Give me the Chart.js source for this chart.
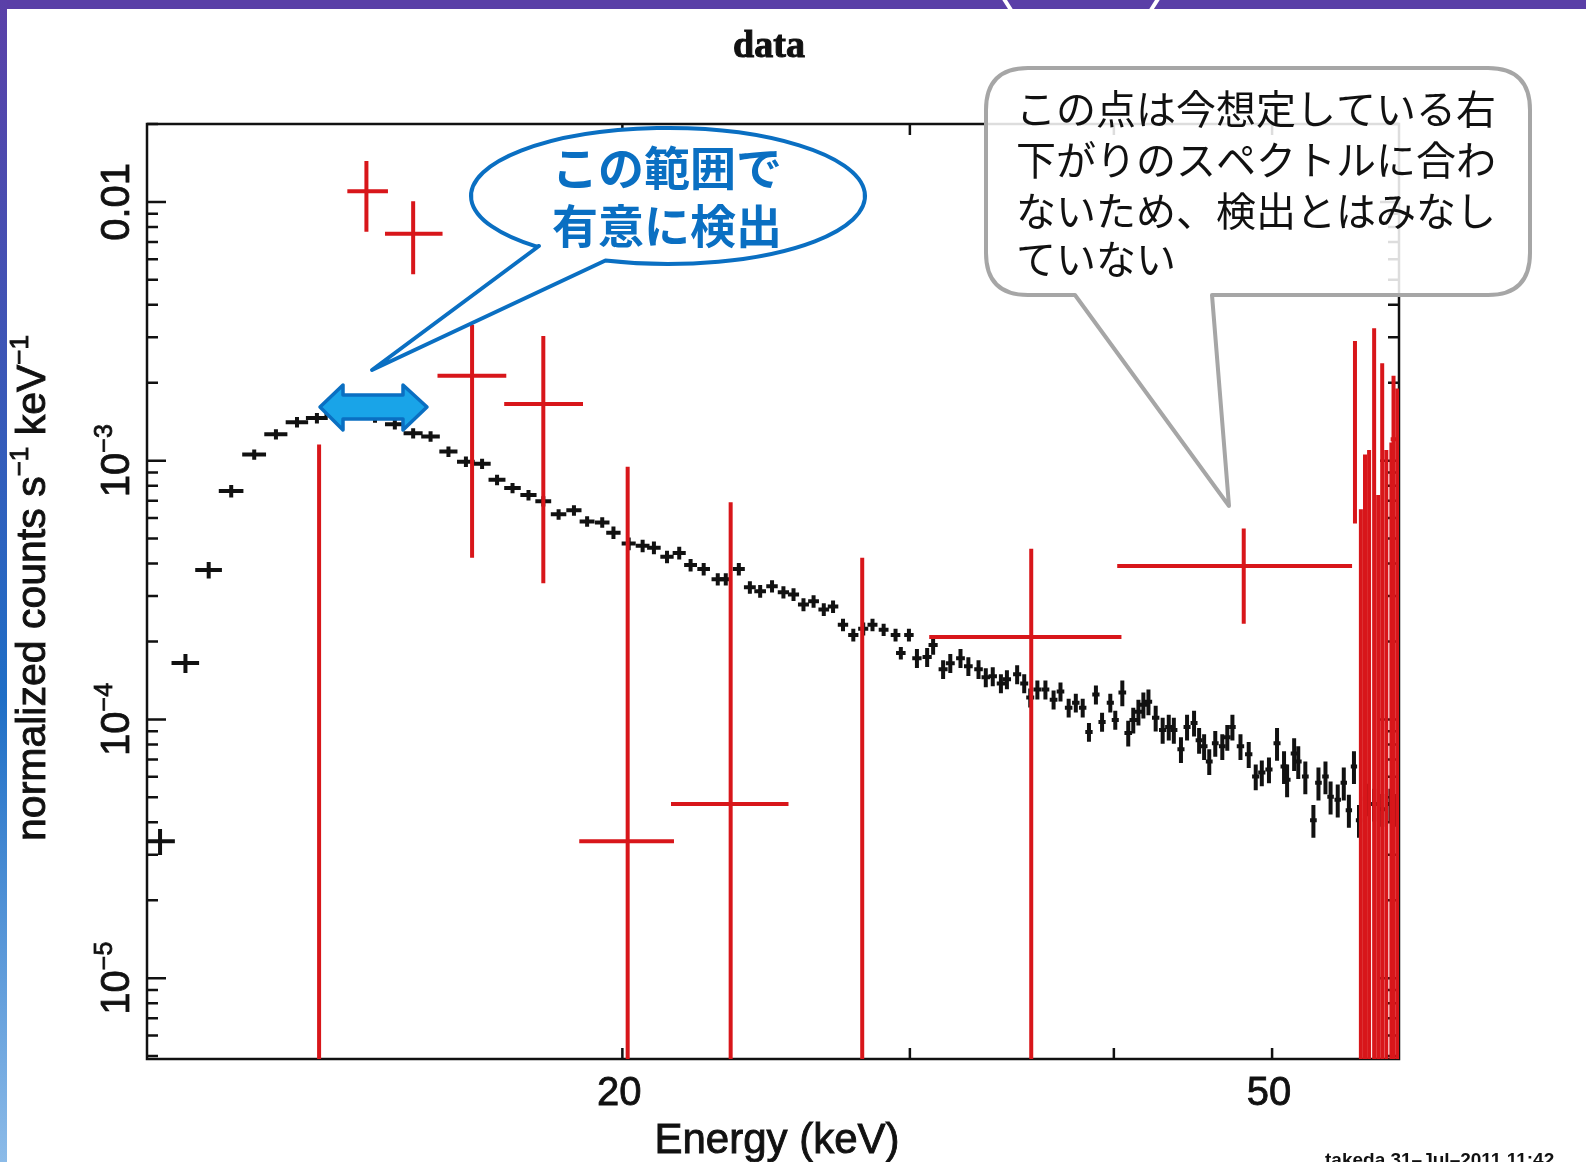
<!DOCTYPE html>
<html><head><meta charset="utf-8">
<script src="https://cdn.jsdelivr.net/npm/chart.js@4.4.1/dist/chart.umd.min.js"></script>
<style>html,body{margin:0;padding:0;background:#fff;overflow:hidden}#wrap{position:relative;width:1586px;height:1162px}</style>
</head><body><div id="wrap"><canvas id="c" width="1586" height="1162"></canvas></div>
<script>
// ---------- DATA ----------
// black spectrum: energy (keV), normalized counts, 1-sigma error, bin half-width
const blackE = [
10.42,10.80,11.16,11.52,11.90,12.27,12.64,13.00,13.34,13.71,
14.11,14.51,14.89,15.26,15.65,16.04,16.41,16.76,17.13,17.52,
17.89,18.28,18.68,19.03,19.44,19.75,20.18,20.58,20.91,21.30,
21.67,22.02,22.43,22.88,23.14,23.57,23.94,24.29,24.70,25.10,
25.46,25.82,26.19,26.57,26.92,27.30,27.70,28.09,28.46,28.91,
29.40,29.62,29.96,30.30,30.74,31.00,31.44,31.76,32.22,32.58,
33.05,33.39,33.72,34.11,34.40,34.90,35.25,35.55,35.91,36.32,
36.74,37.10,37.53,37.91,38.28,38.62,39.00,39.34,39.80,40.08,
40.48,40.82,41.11,41.41,41.70,42.00,42.43,42.85,43.22,43.53,
43.97,44.35,44.79,45.11,45.43,45.76,46.15,46.61,46.94,47.28,
47.82,48.38,48.86,49.28,49.78,50.35,50.85,51.07,51.58,51.88,
52.40,53.00,53.38,53.91,54.30,54.85,55.32,55.72,56.12,56.52,
57.08,57.74,58.40,59.08,59.59];
const blackRate = [
3.38e-5,1.65e-4,3.78e-4,7.63e-4,1.056e-3,1.264e-3,1.408e-3,1.460e-3,1.500e-3,1.528e-3,
1.47e-3,1.383e-3,1.276e-3,1.241e-3,1.084e-3,9.91e-4,9.73e-4,8.43e-4,7.84e-4,7.36e-4,
6.97e-4,6.20e-4,6.43e-4,5.82e-4,5.77e-4,5.27e-4,4.78e-4,4.69e-4,4.61e-4,4.25e-4,
4.40e-4,3.95e-4,3.81e-4,3.48e-4,3.48e-4,3.81e-4,3.24e-4,3.13e-4,3.27e-4,3.10e-4,
3.04e-4,2.78e-4,2.86e-4,2.66e-4,2.73e-4,2.32e-4,2.12e-4,2.24e-4,2.32e-4,2.22e-4,
2.12e-4,1.805e-4,2.12e-4,1.725e-4,1.741e-4,1.94e-4,1.562e-4,1.649e-4,1.725e-4,1.605e-4,
1.562e-4,1.454e-4,1.467e-4,1.377e-4,1.428e-4,1.493e-4,1.377e-4,1.214e-4,1.304e-4,1.304e-4,
1.192e-4,1.281e-4,1.109e-4,1.160e-4,1.109e-4,8.94e-5,1.247e-4,9.78e-5,1.160e-4,9.95e-5,
1.270e-4,8.86e-5,9.95e-5,1.070e-4,1.139e-4,1.171e-4,1.014e-4,9.10e-5,9.35e-5,9.10e-5,
7.66e-5,9.35e-5,9.69e-5,8.31e-5,7.87e-5,6.88e-5,8.09e-5,7.87e-5,8.54e-5,9.35e-5,
7.87e-5,7.33e-5,6.01e-5,6.23e-5,6.40e-5,8.09e-5,6.58e-5,5.85e-5,7.39e-5,6.88e-5,
6.01e-5,4.08e-5,5.69e-5,6.01e-5,5.02e-5,4.89e-5,5.69e-5,4.46e-5,6.58e-5,4.08e-5,
4.93e-5,4.71e-5,4.50e-5,4.71e-5,4.50e-5];
const blackErr = [
3.9e-6,1.4e-5,2.8e-5,4.3e-5,4.9e-5,5.8e-5,6.5e-5,6.7e-5,6.9e-5,7.0e-5,
6.8e-5,6.4e-5,5.9e-5,5.7e-5,5.0e-5,4.6e-5,4.5e-5,3.9e-5,3.6e-5,3.4e-5,
3.2e-5,2.9e-5,3.0e-5,2.7e-5,2.7e-5,2.9e-5,2.7e-5,2.6e-5,2.6e-5,2.4e-5,
2.5e-5,2.2e-5,2.1e-5,1.9e-5,1.9e-5,2.1e-5,1.8e-5,1.8e-5,1.8e-5,1.7e-5,
1.7e-5,1.6e-5,1.6e-5,1.5e-5,1.5e-5,1.3e-5,1.2e-5,1.3e-5,1.3e-5,1.2e-5,
1.2e-5,1.0e-5,1.2e-5,1.45e-5,1.46e-5,1.63e-5,1.31e-5,1.39e-5,1.45e-5,1.35e-5,
1.31e-5,1.22e-5,1.23e-5,1.16e-5,1.2e-5,1.25e-5,1.16e-5,1.02e-5,1.1e-5,1.1e-5,
1.0e-5,1.08e-5,9.3e-6,9.7e-6,9.3e-6,7.5e-6,1.05e-5,8.2e-6,9.7e-6,8.4e-6,
1.45e-5,1.01e-5,1.13e-5,1.22e-5,1.3e-5,1.33e-5,1.16e-5,1.04e-5,1.07e-5,1.04e-5,
8.7e-6,1.07e-5,1.1e-5,9.5e-6,9.0e-6,7.8e-6,9.2e-6,9.0e-6,9.7e-6,1.07e-5,
9.0e-6,8.4e-6,6.9e-6,7.1e-6,7.3e-6,1.17e-5,9.5e-6,8.5e-6,1.07e-5,1.0e-5,
8.7e-6,5.9e-6,8.3e-6,8.7e-6,7.3e-6,7.1e-6,8.3e-6,6.5e-6,9.5e-6,5.9e-6,
7.1e-6,6.8e-6,6.5e-6,6.8e-6,6.5e-6];
const blackEHalf = [
0.22,0.21,0.21,0.2,0.2,0.2,0.2,0.2,0.2,0.2,
0.2,0.2,0.2,0.2,0.2,0.2,0.2,0.2,0.2,0.2,
0.2,0.2,0.2,0.2,0.2,0.2,0.2,0.2,0.2,0.2,
0.2,0.2,0.2,0.2,0.2,0.2,0.2,0.2,0.2,0.2,
0.2,0.2,0.2,0.2,0.2,0.2,0.2,0.2,0.2,0.2,
0.2,0.2,0.2,0.2,0.2,0.2,0.2,0.2,0.2,0.2,
0.2,0.2,0.2,0.2,0.2,0.2,0.2,0.2,0.2,0.2,
0.2,0.2,0.2,0.2,0.2,0.2,0.2,0.2,0.2,0.2,
0.22,0.22,0.22,0.22,0.22,0.22,0.22,0.22,0.22,0.22,
0.22,0.22,0.22,0.22,0.22,0.22,0.22,0.22,0.22,0.22,
0.25,0.25,0.25,0.25,0.25,0.25,0.25,0.25,0.25,0.25,
0.25,0.25,0.25,0.25,0.25,0.25,0.25,0.25,0.25,0.25,
0.25,0.25,0.25,0.25,0.25];

// red spectrum: energy, bin low/high edge, rate, rate lower/upper bound
const redE      = [13.94,14.89,13.04,16.18,17.89,20.15,23.30,28.05,35.60,48.04,
                   56.20,56.67,57.00,57.33,57.74,58.07,58.40,58.74,59.16,59.34,59.66];
const redELo    = [13.57,14.31,12.98,15.41,16.93,18.82,21.42,28.00,30.83,40.19,
                   56.05,56.50,56.85,57.15,57.60,57.95,58.25,58.60,59.00,59.10,59.55];
const redEHi    = [14.37,15.52,13.10,16.98,18.92,21.51,25.28,28.10,40.43,55.97,
                   56.35,56.85,57.15,57.50,57.90,58.20,58.55,58.90,59.30,59.60,59.80];
const redRate   = [1.10e-2,7.53e-3,2e-6,2.13e-3,1.656e-3,3.38e-5,4.71e-5,2e-6,2.08e-4,3.92e-4,
                   1.81e-3,2e-6,2e-6,2e-6,2.23e-3,2e-6,1.42e-3,2e-6,2e-6,1.21e-3,2e-6];
const redRateLo = [7.66e-3,5.25e-3,1e-7,4.21e-4,3.36e-4,1e-7,1e-7,1e-7,1e-7,2.34e-4,
                   5.72e-4,1e-7,1e-7,1e-7,1e-7,1e-7,1e-7,1e-7,1e-7,1e-7,1e-7];
const redRateHi = [1.44e-2,1.005e-2,1.155e-3,3.35e-3,3.03e-3,9.47e-4,6.91e-4,4.21e-4,4.57e-4,5.47e-4,
                   2.90e-3,6.49e-4,1.056e-3,1.10e-3,3.25e-3,7.36e-4,2.38e-3,1.10e-3,1.176e-3,2.13e-3,1.90e-3];

// axis ranges and ticks
const xRange = [10.23, 59.8];
const yRange = [4.87e-6, 0.02];
const xTickValues = [20, 30, 40, 50];
const xTickLabels = {20: '20', 50: '50'};
const yTickValues = [0.01, 1e-3, 1e-4, 1e-5];
const yTickLabels = [['0.01', ''], ['10', '\u22123'], ['10', '\u22124'], ['10', '\u22125']];

const titleText = 'data';
const xTitle = 'Energy (keV)';
const yTitleParts = [['normalized counts s', false], ['\u22121', true], [' keV', false], ['\u22121', true]];
const stampText = 'takeda 31\u2013Jul\u20132011 11:42';
const blueNote = ['この範囲で', '有意に検出'];
const greyNote = ['この点は今想定している右', '下がりのスペクトルに合わ', 'ないため、検出とはみなし', 'ていない'];

// ---------- CHART ----------
const blackData = blackE.map((e, i) => ({x: e, y: blackRate[i], xMin: e - blackEHalf[i], xMax: e + blackEHalf[i],
  yMin: blackRate[i] - blackErr[i], yMax: blackRate[i] + blackErr[i]}));
const redData = redE.map((e, i) => ({x: e, y: redRate[i], xMin: redELo[i], xMax: redEHi[i],
  yMin: redRateLo[i], yMax: redRateHi[i]}));

function supText(ctx, parts, size, supSize, rise, weight) {
  let w = 0;
  const widths = parts.map(([t, s]) => { ctx.font = (s ? supSize : size) + 'px "Liberation Sans"'; const m = ctx.measureText(t).width; w += m; return m; });
  let xx = -w / 2;
  ctx.lineWidth = weight || 0;
  ctx.strokeStyle = ctx.fillStyle;
  parts.forEach(([t, s], i) => {
    ctx.font = (s ? supSize : size) + 'px "Liberation Sans"';
    ctx.fillText(t, xx, s ? -rise : 0);
    if (weight) ctx.strokeText(t, xx, s ? -rise : 0);
    xx += widths[i];
  });
}

const framePlugin = {
  id: 'frame',
  beforeDraw(chart) {
    const ctx = chart.ctx;
    ctx.save();
    ctx.fillStyle = '#fff'; ctx.fillRect(0, 0, chart.width, chart.height);
    ctx.fillStyle = '#5a3fa7'; ctx.fillRect(0, 0, chart.width, 9);
    ctx.strokeStyle = '#fff'; ctx.lineWidth = 4;
    ctx.beginPath(); ctx.moveTo(1004, -1); ctx.lineTo(1011, 10); ctx.moveTo(1158, -1); ctx.lineTo(1151, 10); ctx.stroke();
    const g = ctx.createLinearGradient(0, 0, 0, chart.height);
    g.addColorStop(0, '#5a40a8'); g.addColorStop(0.3, '#3d55b6'); g.addColorStop(0.6, '#1e6ec6'); g.addColorStop(1, '#8cbbe8');
    ctx.fillStyle = g; ctx.fillRect(0, 0, 7, chart.height);
    ctx.restore();
  },
  beforeDatasetsDraw(chart) {
    const {ctx, chartArea: a, scales: {x, y}} = chart;
    ctx.save();
    ctx.strokeStyle = '#111'; ctx.lineWidth = 2.5;
    ctx.strokeRect(a.left, a.top, a.right - a.left, a.bottom - a.top);
    ctx.beginPath();
    for (let d = -6; d <= -1; d++) {
      for (let k = 1; k <= 9; k++) {
        const v = k * Math.pow(10, d);
        if (v < yRange[0] || v > yRange[1]) continue;
        const py = y.getPixelForValue(v);
        const len = k === 1 ? 19 : 11;
        ctx.moveTo(a.left, py); ctx.lineTo(a.left + len, py);
        ctx.moveTo(a.right, py); ctx.lineTo(a.right - len, py);
      }
    }
    xTickValues.forEach(v => {
      const px = x.getPixelForValue(v);
      ctx.moveTo(px, a.bottom); ctx.lineTo(px, a.bottom - 11);
      ctx.moveTo(px, a.top); ctx.lineTo(px, a.top + 11);
    });
    ctx.stroke();
    // tick labels
    ctx.fillStyle = '#111'; ctx.strokeStyle = '#111';
    ctx.textAlign = 'center'; ctx.textBaseline = 'alphabetic';
    ctx.font = '40px "Liberation Sans"'; ctx.lineWidth = 0.8;
    Object.keys(xTickLabels).forEach(k => {
      const px = x.getPixelForValue(+k) - 3;
      ctx.fillText(xTickLabels[k], px, 1105);
      ctx.strokeText(xTickLabels[k], px, 1105);
    });
    ctx.textAlign = 'left';
    yTickValues.forEach((v, i) => {
      const py = y.getPixelForValue(v);
      ctx.save(); ctx.translate(129, py); ctx.rotate(-Math.PI / 2);
      const parts = [[yTickLabels[i][0], false]];
      if (yTickLabels[i][1]) parts.push([yTickLabels[i][1], true]);
      supText(ctx, parts, 40, 25, 17, 0.8);
      ctx.restore();
    });
    // axis titles
    ctx.save(); ctx.translate(45, 588); ctx.rotate(-Math.PI / 2);
    supText(ctx, yTitleParts, 41, 26, 17, 0.9);
    ctx.restore();
    ctx.textAlign = 'center';
    ctx.font = '42px "Liberation Sans"'; ctx.lineWidth = 0.9;
    ctx.fillText(xTitle, 777, 1153); ctx.strokeText(xTitle, 777, 1153);
    ctx.font = 'bold 38px "Liberation Serif"'; ctx.lineWidth = 1;
    ctx.fillText(titleText, 769, 57); ctx.strokeText(titleText, 769, 57);
    ctx.font = 'bold 19px "Liberation Sans"';
    ctx.textAlign = 'left';
    ctx.fillText(stampText, 1325, 1166);
    ctx.restore();
  },
  afterDatasetsDraw(chart) {
    const {ctx, chartArea: a, scales: {x, y}} = chart;
    ctx.save();
    ctx.beginPath(); ctx.rect(a.left, a.top, a.right - a.left, a.bottom - a.top); ctx.clip();
    ctx.lineCap = 'butt';
    chart.data.datasets.forEach(ds => {
      ctx.strokeStyle = ds.borderColor; ctx.lineWidth = ds.crossWidth;
      ds.data.forEach(p => {
        const px = x.getPixelForValue(p.x), py = y.getPixelForValue(p.y);
        ctx.beginPath();
        ctx.moveTo(x.getPixelForValue(p.xMin), py); ctx.lineTo(x.getPixelForValue(p.xMax), py);
        ctx.moveTo(px, y.getPixelForValue(p.yMax)); ctx.lineTo(px, y.getPixelForValue(p.yMin));
        ctx.stroke();
      });
    });
    ctx.restore();
  },
  afterDraw(chart) {
    const ctx = chart.ctx;
    ctx.save();
    // blue double arrow
    ctx.beginPath();
    ctx.moveTo(320, 407); ctx.lineTo(343, 385); ctx.lineTo(343, 395); ctx.lineTo(403, 395); ctx.lineTo(403, 385);
    ctx.lineTo(427, 407); ctx.lineTo(403, 430); ctx.lineTo(403, 419); ctx.lineTo(343, 419); ctx.lineTo(343, 430); ctx.closePath();
    ctx.fillStyle = '#19a4e8'; ctx.fill();
    ctx.strokeStyle = '#0a6fc2'; ctx.lineWidth = 3.5; ctx.lineJoin = 'round'; ctx.stroke();
    // blue speech ellipse
    ctx.beginPath();
    ctx.moveTo(372, 370);
    ctx.lineTo(539, 246);
    ctx.ellipse(668, 196, 197, 68, 0, 2.30, 1.894, false);
    ctx.lineTo(372, 370);
    ctx.closePath();
    ctx.fillStyle = '#fff'; ctx.fill();
    ctx.strokeStyle = '#0a6fc2'; ctx.lineWidth = 4; ctx.stroke();
    ctx.fillStyle = '#0a6fc2';
    ctx.font = 'bold 46px "Noto Sans CJK JP"';
    ctx.textAlign = 'center'; ctx.textBaseline = 'middle';
    ctx.fillText(blueNote[0], 667, 168);
    ctx.fillText(blueNote[1], 667, 226);
    // grey callout
    const L = 986, T = 68, R = 1530, B = 295, r = 42;
    ctx.beginPath();
    ctx.moveTo(L + r, T);
    ctx.lineTo(R - r, T); ctx.quadraticCurveTo(R, T, R, T + r);
    ctx.lineTo(R, B - r); ctx.quadraticCurveTo(R, B, R - r, B);
    ctx.lineTo(1212, B); ctx.lineTo(1229, 506); ctx.lineTo(1075, B);
    ctx.lineTo(L + r, B); ctx.quadraticCurveTo(L, B, L, B - r);
    ctx.lineTo(L, T + r); ctx.quadraticCurveTo(L, T, L + r, T);
    ctx.closePath();
    ctx.fillStyle = 'rgba(255,255,255,0.86)'; ctx.fill();
    ctx.strokeStyle = '#a6a6a6'; ctx.lineWidth = 4; ctx.stroke();
    ctx.fillStyle = '#111';
    ctx.font = '40px "Noto Sans CJK JP"';
    ctx.textAlign = 'left';
    const ys = [109, 160, 211, 259];
    greyNote.forEach((t, i) => ctx.fillText(t, 1016, ys[i]));
    ctx.restore();
  }
};

new Chart(document.getElementById('c'), {
  type: 'scatter',
  data: {datasets: [
    {label: 'black', data: blackData, borderColor: '#111', backgroundColor: '#111', pointRadius: 0, crossWidth: 4},
    {label: 'red', data: redData, borderColor: '#d8161a', backgroundColor: '#d8161a', pointRadius: 0, crossWidth: 4}
  ]},
  options: {
    responsive: false, animation: false, devicePixelRatio: 1, events: [],
    layout: {padding: {left: 147, top: 124, right: 187, bottom: 103}},
    plugins: {legend: {display: false}, tooltip: {enabled: false}, title: {display: false}},
    scales: {
      x: {type: 'logarithmic', min: xRange[0], max: xRange[1], display: false},
      y: {type: 'logarithmic', min: yRange[0], max: yRange[1], display: false}
    }
  },
  plugins: [framePlugin]
});
</script></body></html>
